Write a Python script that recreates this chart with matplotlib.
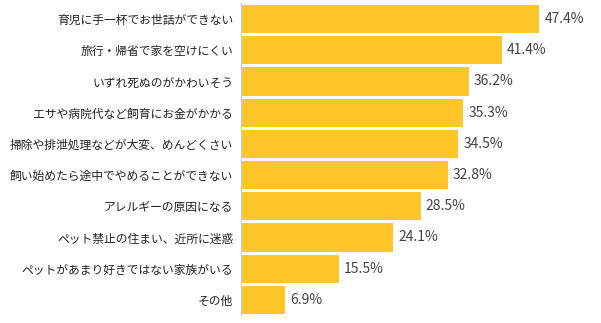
import matplotlib
matplotlib.use('Agg')
import matplotlib.pyplot as plt

plt.rcParams['font.family'] = ['Noto Sans CJK JP', 'DejaVu Sans']

labels = ['育児に手一杯でお世話ができない', '旅行・帰省で家を空けにくい', 'いずれ死ぬのがかわいそう',
          'エサや病院代など飼育にお金がかかる', '掃除や排泄処理などが大変、めんどくさい',
          '飼い始めたら途中でやめることができない', 'アレルギーの原因になる',
          'ペット禁止の住まい、近所に迷惑', 'ペットがあまり好きではない家族がいる', 'その他']
values = [47.4, 41.4, 36.2, 35.3, 34.5, 32.8, 28.5, 24.1, 15.5, 6.9]

W, H = 601, 323
fig = plt.figure(figsize=(W / 100, H / 100), dpi=100)
ax = fig.add_axes([241.5 / W, 1 - 315.5 / H, 1 - 241.5 / W, 312 / H])

pos = list(range(len(values)))
ax.barh(pos, values, height=0.9, color='#FFC629')

for y, v in zip(pos, values):
    ax.text(v + 0.8, y, f'{v}%', va='center', ha='left', fontsize=10, color='#444444')

ax.set_xlim(0, 57.2)
ax.set_ylim(9.5, -0.5)
ax.set_yticks(pos)
ax.set_yticklabels(labels, fontsize=8.5, color='#222222')
ax.tick_params(axis='y', length=0, pad=6)
ax.set_xticks([])
for s in ['top', 'right', 'bottom']:
    ax.spines[s].set_visible(False)
ax.spines['left'].set_color('#cccccc')
ax.spines['left'].set_linewidth(0.8)

fig.savefig('out.png', dpi=100)
